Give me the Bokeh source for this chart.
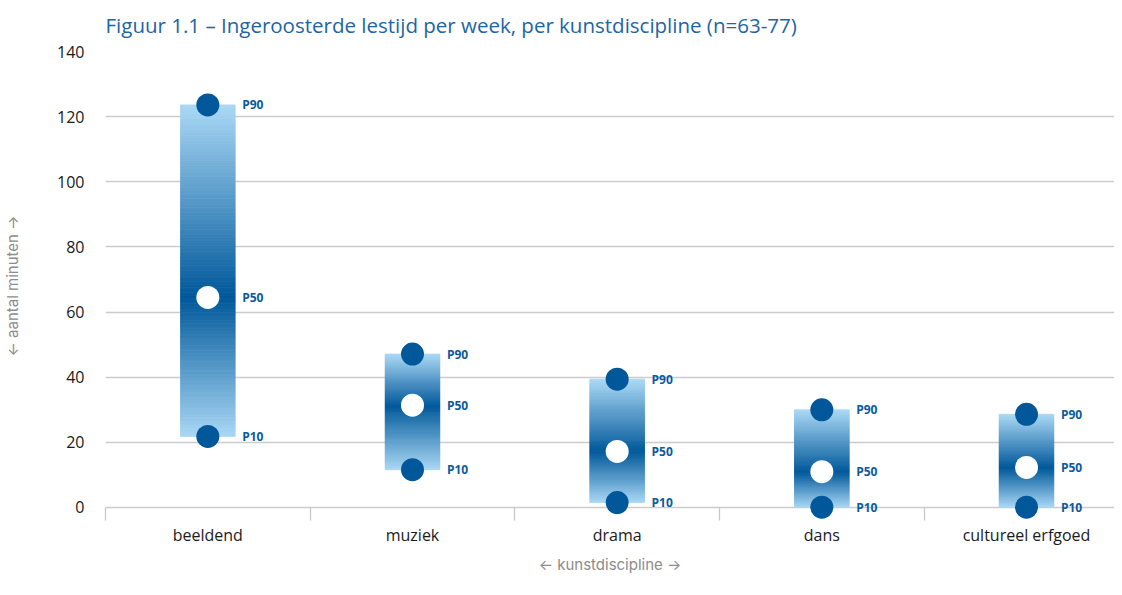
from bokeh.plotting import figure
from bokeh.models import Range1d, FixedTicker, ColumnDataSource
from bokeh.embed import file_html
from bokeh.resources import INLINE
from bokeh.core.properties import value

categories = ["beeldend", "muziek", "drama", "dans", "cultureel erfgoed"]
p10 = [21.8, 11.6, 1.5, 0.1, 0.1]
p50 = [64.5, 31.4, 17.2, 11.0, 12.3]
p90 = [123.6, 47.1, 39.4, 30.0, 28.6]
y_ticks = [0, 20, 40, 60, 80, 100, 120, 140]

TITLE = "Figuur 1.1 – Ingeroosterde lestijd per week, per kunstdiscipline (n=63-77)"
FONT = "Open Sans"
AXFONT = "Inter"
DARK = (0, 88, 154)
LIGHT = (170, 216, 245)
LABEL_BLUE = "#0b5a9b"

def mix(t):
    r = [round(DARK[k] + (LIGHT[k] - DARK[k]) * t) for k in range(3)]
    return "#%02x%02x%02x" % tuple(r)

n = len(categories)
xc = [i + 0.5 for i in range(n)]

p = figure(width=1114, height=576, output_backend="svg", toolbar_location=None,
           x_range=Range1d(0, 4.93), y_range=Range1d(-4, 140),
           min_border_top=0, min_border_left=0, min_border_right=0, min_border_bottom=0)
p.outline_line_color = None
p.background_fill_color = "white"
p.border_fill_color = "white"

p.title.text = TITLE
p.title.text_font = FONT
p.title.text_font_size = "20.5px"
p.title.text_font_style = "normal"
p.title.text_color = "#1c65a6"
p.title.align = "left"
p.title.vertical_align = "top"
p.title.standoff = 21

# grid
p.xgrid.visible = False
p.ygrid.ticker = FixedTicker(ticks=y_ticks)
p.ygrid.grid_line_color = "#cccccc"
p.ygrid.grid_line_width = 1.3

# y axis
ya = p.yaxis[0]
ya.ticker = FixedTicker(ticks=y_ticks)
ya.axis_line_color = None
ya.major_tick_line_color = None
ya.minor_tick_line_color = None
ya.major_label_standoff = 15
ya.major_label_text_font = FONT
ya.major_label_text_font_size = "16px"
ya.major_label_text_color = "#1a1a1a"
ya.major_label_text_baseline = "alphabetic"
ya.axis_label = "← aantal minuten →"
ya.axis_label_text_font = AXFONT
ya.axis_label_text_font_size = "15px"
ya.axis_label_text_font_style = "normal"
ya.axis_label_text_color = "#8c8c8c"
ya.axis_label_standoff = 32

# x axis
xa = p.xaxis[0]
xa.ticker = FixedTicker(ticks=xc, minor_ticks=list(range(n + 1)))
xa.major_label_overrides = {x: c for x, c in zip(xc, categories)}
xa.axis_line_color = None
xa.major_tick_line_color = None
xa.minor_tick_line_color = "#c8c8c8"
xa.minor_tick_line_width = 1.3
xa.minor_tick_in = 13
xa.minor_tick_out = 0
xa.major_label_standoff = -3
xa.major_label_text_font = FONT
xa.major_label_text_font_size = "16px"
xa.major_label_text_color = "#1a1a1a"
xa.axis_label = "← kunstdiscipline →"
xa.axis_label_text_font = AXFONT
xa.axis_label_text_font_size = "15px"
xa.axis_label_text_font_style = "normal"
xa.axis_label_text_color = "#8c8c8c"
xa.axis_label_standoff = 6

# gradient bars (stacked thin strips)
BAR_W = 0.267
STEPS = 120
L, R, B, T, C = [], [], [], [], []
for i in range(n):
    lo, mid, hi = p10[i], p50[i], p90[i]
    for k in range(STEPS):
        y0 = lo + (hi - lo) * k / STEPS
        y1 = lo + (hi - lo) * (k + 1) / STEPS
        ym = (y0 + y1) / 2
        if ym >= mid:
            t = (ym - mid) / max(hi - mid, 1e-9)
        else:
            t = (mid - ym) / max(mid - lo, 1e-9)
        L.append(xc[i] - BAR_W / 2)
        R.append(xc[i] + BAR_W / 2)
        B.append(y0)
        T.append(y1)
        C.append(mix(min(1.0, t)))
p.quad(left=L, right=R, bottom=B, top=T, fill_color=C, line_color=C, line_width=0.8)

# dots
p.scatter(x=xc, y=p90, size=23, fill_color="#00579a", line_color=None)
p.scatter(x=xc, y=p10, size=23, fill_color="#00579a", line_color=None)
p.scatter(x=xc, y=p50, size=23, fill_color="white", line_color=None)

# labels
lx = [x + 0.168 for x in xc]
for vals, name in ((p90, "P90"), (p50, "P50"), (p10, "P10")):
    src = ColumnDataSource(dict(x=lx, y=vals, t=[name] * n))
    p.text(x="x", y="y", text="t", source=src, text_font=value(FONT),
           text_font_size="12px", text_font_style="bold", text_color=LABEL_BLUE,
           text_baseline="middle", text_align="left")

open("out.html", "w").write(file_html(p, INLINE))
